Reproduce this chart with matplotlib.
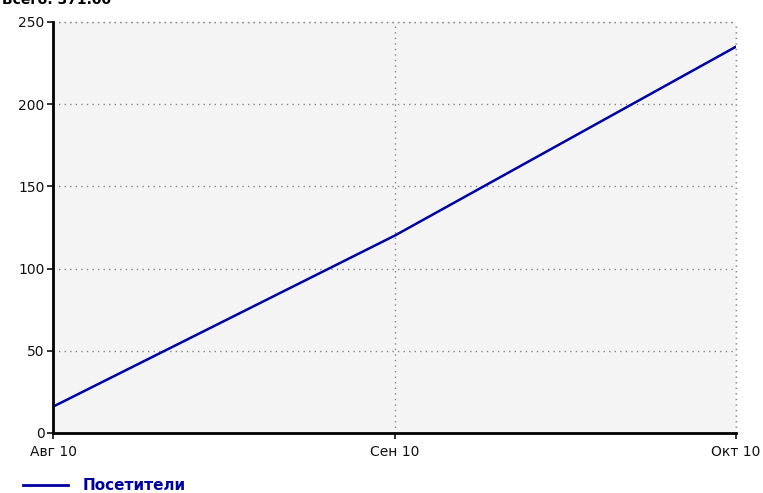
import matplotlib.pyplot as plt
from matplotlib.lines import Line2D

# data
months = ['Авг 10', 'Сен 10', 'Окт 10']
visitors = [16, 120, 235]
y_ticks = [0, 50, 100, 150, 200, 250]
series_name = 'Посетители'
line_color = '#0000a0'

plt.rcParams['font.family'] = ['DejaVu Sans']

fig = plt.figure(figsize=(7.63, 4.93), dpi=100)
ax = fig.add_axes([53 / 763, 60 / 493, 683 / 763, 411 / 493])
ax.set_facecolor('#f4f4f4')

x = list(range(len(months)))
ax.plot(x, visitors, color=line_color, linewidth=1.8)

ax.set_xlim(0, len(months) - 1)
ax.set_ylim(0, 250)
ax.set_xticks(x)
ax.set_xticklabels(months)
ax.set_yticks(y_ticks)
ax.tick_params(axis='both', labelsize=10, colors='#111111', width=1.2, length=4)
ax.tick_params(axis='x', pad=5)
ax.tick_params(axis='y', pad=2)

ax.grid(True, linestyle=(0, (1, 3)), color='#888888', linewidth=1)
ax.set_axisbelow(True)
for s in ['top', 'right']:
    ax.spines[s].set_visible(False)
for s in ['left', 'bottom']:
    ax.spines[s].set_linewidth(2)
# keep grid lines at the top and right edges visible
ax.axhline(250, linestyle=(0, (1, 3)), color='#888888', linewidth=1, clip_on=False)
ax.axvline(len(months) - 1, linestyle=(0, (1, 3)), color='#888888', linewidth=1, clip_on=False)

# legend below the plot
fig.add_artist(Line2D([23 / 763, 68 / 763], [8 / 493, 8 / 493], color=line_color, linewidth=2))
fig.text(83 / 763, 8 / 493, series_name, color=line_color, fontsize=11, fontweight='bold', va='center')

# title, cut off at the top edge as in the reference
fig.text(2 / 763, 500 / 493, 'Всего: 371.00', fontsize=10, fontweight='bold', va='top')

fig.savefig('out.png', dpi=100)
